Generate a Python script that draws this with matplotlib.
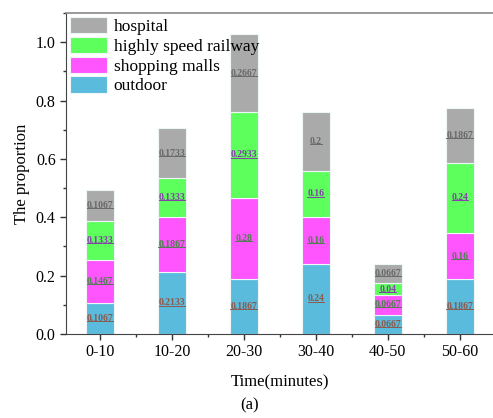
import numpy as np
import matplotlib
matplotlib.use("Agg")
import matplotlib.pyplot as plt
from matplotlib.ticker import MultipleLocator

plt.rcParams["font.family"] = ["Liberation Serif", "DejaVu Serif"]

categories = ["0-10", "10-20", "20-30", "30-40", "40-50", "50-60"]
outdoor = [0.1067, 0.2133, 0.1867, 0.24, 0.0667, 0.1867]
shopping = [0.1467, 0.1867, 0.28, 0.16, 0.0667, 0.16]
railway = [0.1333, 0.1333, 0.2933, 0.16, 0.04, 0.24]
hospital = [0.1067, 0.1733, 0.2667, 0.2, 0.0667, 0.1867]

series = [
    ("outdoor", outdoor, "#5bbbdc", "#8a5a4e"),
    ("shopping malls", shopping, "#ff55ff", "#4f7f4f"),
    ("highly speed railway", railway, "#5cff5c", "#8440a8"),
    ("hospital", hospital, "#aaaaaa", "#6a6a6a"),
]

fig = plt.figure(figsize=(4.93, 4.18), dpi=100)
ax = fig.add_axes([0.134, 0.201, 0.866, 0.768])

x = np.arange(len(categories))
bottom = np.zeros(len(categories))
handles = []
for name, vals, col, tcol in series:
    vals = np.array(vals)
    b = ax.bar(x, vals, 0.39, bottom=bottom, color=col, edgecolor="#eef6f8",
               linewidth=0.8, label=name)
    handles.append(b)
    for xi, v, b0 in zip(x, vals, bottom):
        ax.text(xi, b0 + v / 2, f"{v:g}", ha="center", va="center",
                fontsize=7, fontweight="bold", color=tcol)
    bottom += vals

ax.set_xlim(-0.47, 5.46)
ax.set_ylim(0, 1.1)

# underline the segment labels
fig.canvas.draw()
inv = ax.transData.inverted()
for t in ax.texts:
    bb = t.get_window_extent()
    yy = bb.y0 + 0.2 * bb.height
    (x0, y0), (x1, y1) = inv.transform([[bb.x0, yy], [bb.x1, yy]])
    ax.plot([x0, x1], [y0, y1], color=t.get_color(), lw=0.7)

ax.set_xticks(x)
ax.set_xticklabels(categories, fontsize=11.5)
ax.xaxis.set_minor_locator(MultipleLocator(0.5))
ax.yaxis.set_minor_locator(MultipleLocator(0.1))
ax.set_yticks([0, 0.2, 0.4, 0.6, 0.8, 1.0])
ax.set_yticklabels(["0.0", "0.2", "0.4", "0.6", "0.8", "1.0"], fontsize=11.5)
ax.tick_params(which="major", length=4, width=1, color="#333333")
ax.tick_params(which="minor", length=2.5, width=1, color="#333333")

ax.spines["right"].set_visible(False)
ax.spines["left"].set_color("#444444")
ax.spines["bottom"].set_color("#444444")
ax.spines["top"].set_color("#888888")
ax.spines["top"].set_linewidth(1.2)

ax.set_xlabel("Time(minutes)", fontsize=12, labelpad=10)
ax.set_ylabel("The proportion", fontsize=12, labelpad=4)

ax.legend(handles[::-1], [s[0] for s in series][::-1], loc="upper left",
          frameon=False, fontsize=12.5, handlelength=2.1, handleheight=1.05,
          handletextpad=0.4, labelspacing=0.1, borderaxespad=0.1,
          borderpad=0.15)

fig.text(0.507, 0.03, "(a)", ha="center", va="center", fontsize=12)

fig.savefig("out.png", dpi=100)
